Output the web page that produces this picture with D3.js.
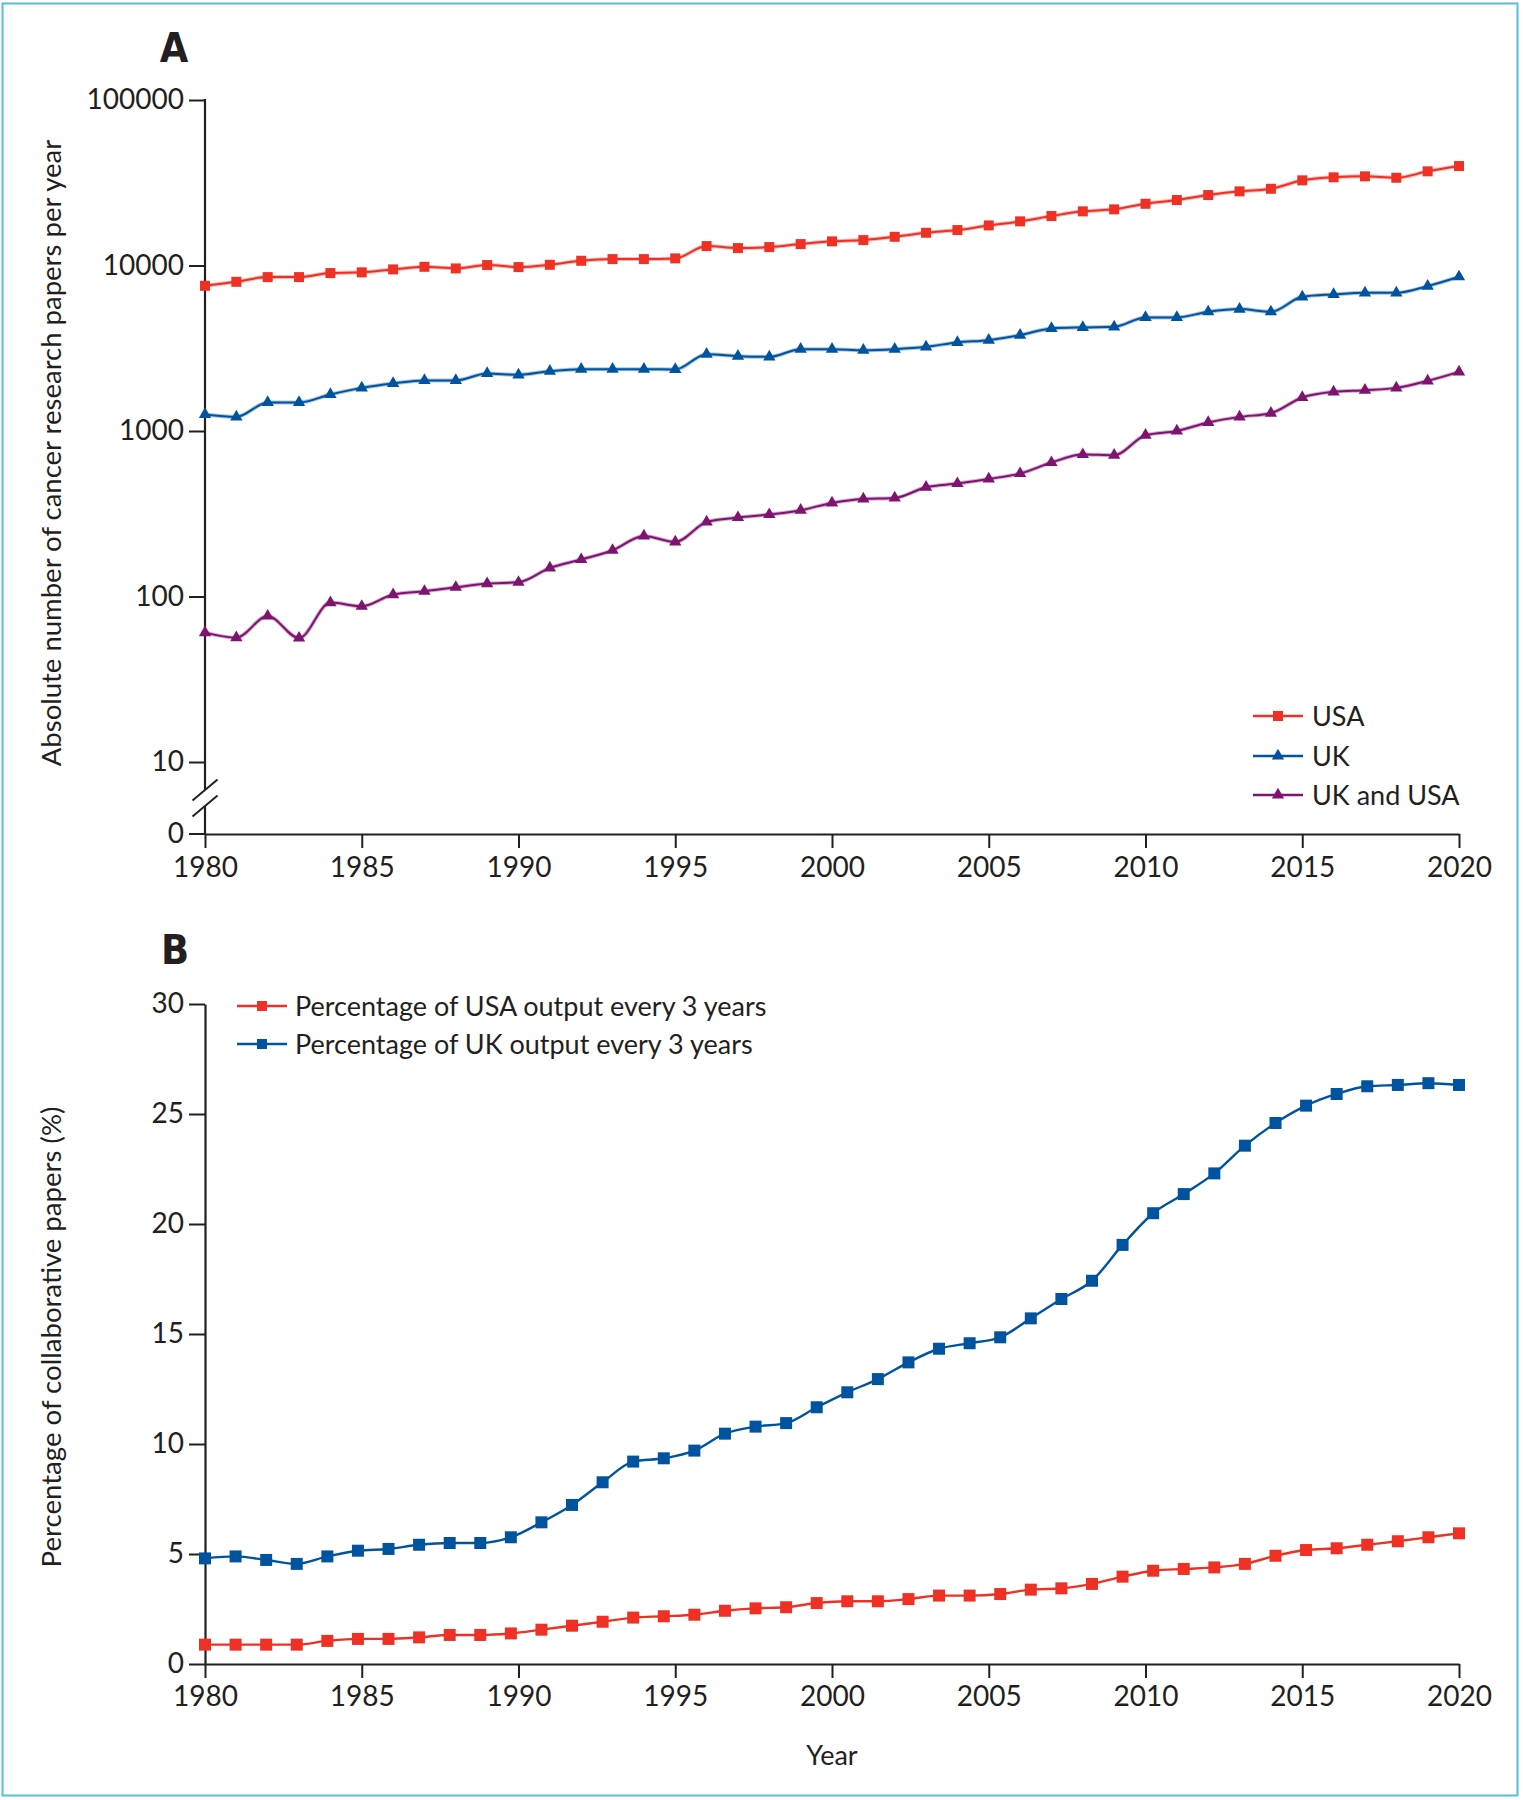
<!DOCTYPE html>
<html>
<head>
<meta charset="utf-8">
<script src="https://cdn.jsdelivr.net/npm/d3@7"></script>
<style>
  html, body { margin: 0; padding: 0; background: #fff; }
  svg { display: block; }
  .tick text { font-family: Lato, "Noto Sans", sans-serif; fill: #231f20; }
</style>
</head>
<body>
<svg id="chart" width="1523" height="1800"></svg>
<script>
// ---------- Panel A data (annual counts, 1980-2020) ----------
const yearsA = [1980,1981,1982,1983,1984,1985,1986,1987,1988,1989,1990,1991,1992,1993,1994,1995,1996,1997,1998,1999,2000,2001,2002,2003,2004,2005,2006,2007,2008,2009,2010,2011,2012,2013,2014,2015,2016,2017,2018,2019,2020];
const usaCounts = [7540,7970,8510,8510,9000,9090,9470,9820,9600,10060,9780,10100,10680,10930,10930,11040,13100,12740,12920,13470,13990,14240,14910,15770,16370,17470,18480,19900,21240,21840,23600,24860,26650,28050,29090,32700,34100,34580,33900,37060,39900];
const ukCounts = [1258,1217,1487,1487,1662,1822,1938,2020,2020,2227,2184,2299,2364,2364,2364,2354,2913,2833,2805,3123,3123,3080,3123,3225,3429,3540,3795,4166,4224,4260,4857,4857,5251,5451,5251,6468,6688,6837,6837,7508,8545];
const ukUsaCounts = [60.5,56.4,76.2,56.1,91.9,87.3,102.7,107.5,113.7,119.7,121.9,148.7,167.2,190.2,232.2,213.5,282.1,299.9,312.7,332,367.6,388.6,394,457.5,481.6,513.4,553.4,645,721,714,943,1001,1126,1217,1281,1594,1724,1765,1822,2009,2277];
const seriesNamesA = ["USA", "UK", "UK and USA"];

// ---------- Panel B data (42 rolling 3-year windows, 1980-2020) ----------
const usaPercent = [0.88,0.88,0.88,0.88,1.05,1.14,1.14,1.21,1.32,1.32,1.39,1.56,1.74,1.92,2.11,2.17,2.24,2.42,2.53,2.58,2.77,2.85,2.85,2.95,3.11,3.11,3.18,3.38,3.44,3.64,3.97,4.24,4.32,4.39,4.55,4.92,5.18,5.26,5.42,5.58,5.76,5.94];
const ukPercent = [4.80,4.89,4.73,4.55,4.89,5.15,5.23,5.42,5.50,5.50,5.76,6.44,7.23,8.26,9.20,9.35,9.70,10.47,10.79,10.95,11.67,12.35,12.95,13.71,14.33,14.58,14.85,15.71,16.59,17.42,19.05,20.49,21.36,22.30,23.56,24.59,25.38,25.91,26.26,26.32,26.40,26.32];
const seriesNamesB = ["Percentage of USA output every 3 years", "Percentage of UK output every 3 years"];

// ---------- Tick labels ----------
const xTickYears = [1980,1985,1990,1995,2000,2005,2010,2015,2020];
const yTicksA = [10,100,1000,10000,100000];
const yTicksB = [0,5,10,15,20,25,30];

// ---------- Styles ----------
const RED = "#ee3124", BLUE = "#00539f", PURPLE = "#7e1470", INK = "#231f20";
const FONT = "Lato, 'Noto Sans', sans-serif";
const BOLD_FONT = "'Liberation Sans Narrow', 'DejaVu Sans Condensed', sans-serif";

const svg = d3.select("#chart");
svg.append("rect").attr("width", 1523).attr("height", 1800).attr("fill", "#fff");
svg.append("rect").attr("x", 2.5).attr("y", 3.5).attr("width", 1515).attr("height", 1792)
  .attr("fill", "none").attr("stroke", "#55bfdc").attr("stroke-width", 2);

const x = d3.scaleLinear().domain([1980, 2020]).range([205, 1459]);

// ================= Panel A =================
const yA = d3.scaleLog().domain([10, 100000]).range([762, 100]);
const axisYA = 834;   // baseline (value "0") of panel A

const gA = svg.append("g");

// x axis A
const xAxisA = gA.append("g").attr("transform", `translate(0,${axisYA})`)
  .call(d3.axisBottom(x).tickValues(xTickYears).tickFormat(d3.format("d")).tickSize(14).tickSizeOuter(0).tickPadding(9));
xAxisA.select(".domain").attr("stroke", INK).attr("stroke-width", 2.2);
xAxisA.selectAll(".tick line").attr("stroke", INK).attr("stroke-width", 2);
xAxisA.selectAll(".tick text").style("font-size", "28px");

// y axis A (ticks only, axis line drawn with break)
const yAxisA = gA.append("g").attr("transform", `translate(${x(1980)},0)`)
  .call(d3.axisLeft(yA).tickValues(yTicksA).tickFormat(d3.format("d")).tickSize(16).tickPadding(5));
yAxisA.select(".domain").remove();
yAxisA.selectAll(".tick line").attr("stroke", INK).attr("stroke-width", 2);
yAxisA.selectAll(".tick text").style("font-size", "28px");
// zero tick
gA.append("line").attr("x1", x(1980) - 16).attr("x2", x(1980)).attr("y1", axisYA).attr("y2", axisYA)
  .attr("stroke", INK).attr("stroke-width", 2);
gA.append("text").attr("x", x(1980) - 21).attr("y", axisYA).attr("dy", "0.32em")
  .attr("text-anchor", "end").style("font-family", FONT).style("font-size", "28px").attr("fill", INK).text("0");
// axis line with break
const breakTop = 790, breakBot = 806;
gA.append("line").attr("x1", x(1980)).attr("x2", x(1980)).attr("y1", yA(100000) - 1).attr("y2", breakTop)
  .attr("stroke", INK).attr("stroke-width", 2.2);
gA.append("line").attr("x1", x(1980)).attr("x2", x(1980)).attr("y1", breakBot).attr("y2", axisYA)
  .attr("stroke", INK).attr("stroke-width", 2.2);
[breakTop, breakBot].forEach(cy => {
  gA.append("line").attr("x1", x(1980) - 12.5).attr("y1", cy + 10.5).attr("x2", x(1980) + 12.5).attr("y2", cy - 10.5)
    .attr("stroke", INK).attr("stroke-width", 2);
});

// lines A
const dataA = [
  { name: seriesNamesA[0], values: usaCounts, color: RED, symbol: d3.symbolSquare, size: 100 },
  { name: seriesNamesA[1], values: ukCounts, color: BLUE, symbol: d3.symbolTriangle, size: 66 },
  { name: seriesNamesA[2], values: ukUsaCounts, color: PURPLE, symbol: d3.symbolTriangle, size: 66 }
];
const lineA = d3.line().x((d, i) => x(yearsA[i])).y(d => yA(d)).curve(d3.curveMonotoneX);
dataA.forEach(s => {
  gA.append("path").attr("d", lineA(s.values)).attr("fill", "none")
    .attr("stroke", s.color).attr("stroke-opacity", 0.35).attr("stroke-width", 4);
  gA.append("path").attr("d", lineA(s.values)).attr("fill", "none")
    .attr("stroke", s.color).attr("stroke-width", 2);
  gA.selectAll(null).data(s.values).join("path")
    .attr("transform", (d, i) => `translate(${x(yearsA[i])},${yA(d)})`)
    .attr("d", d3.symbol().type(s.symbol).size(s.size)).attr("fill", s.color);
});

// legend A
const legA = gA.append("g");
dataA.forEach((s, i) => {
  const ly = [716, 756, 795][i];
  legA.append("line").attr("x1", 1253).attr("x2", 1303).attr("y1", ly).attr("y2", ly)
    .attr("stroke", s.color).attr("stroke-width", 2.5);
  legA.append("path").attr("transform", `translate(1278,${ly})`)
    .attr("d", d3.symbol().type(s.symbol).size(s.size)).attr("fill", s.color);
  legA.append("text").attr("x", 1312).attr("y", ly).attr("dy", "0.36em")
    .style("font-family", FONT).style("font-size", "27px").attr("fill", INK).text(s.name);
});

// title A
gA.append("text").attr("transform", "translate(61,453) rotate(-90)").attr("text-anchor", "middle")
  .style("font-family", FONT).style("font-size", "27.5px").attr("fill", INK)
  .text("Absolute number of cancer research papers per year");
gA.append("text").attr("x", 174).attr("y", 62).attr("text-anchor", "middle")
  .style("font-family", BOLD_FONT).style("font-weight", "bold").style("font-size", "41px").attr("fill", INK).text("A");

// ================= Panel B =================
const yB = d3.scaleLinear().domain([0, 30]).range([1664, 1004]);
const xB = d3.scaleLinear().domain([0, usaPercent.length - 1]).range([x(1980), x(2020)]);
const gB = svg.append("g");

const xAxisB = gB.append("g").attr("transform", `translate(0,${yB(0)})`)
  .call(d3.axisBottom(x).tickValues(xTickYears).tickFormat(d3.format("d")).tickSize(14).tickSizeOuter(0).tickPadding(8));
xAxisB.select(".domain").attr("stroke", INK).attr("stroke-width", 2.2);
xAxisB.selectAll(".tick line").attr("stroke", INK).attr("stroke-width", 2);
xAxisB.selectAll(".tick text").style("font-size", "28px");

const yAxisB = gB.append("g").attr("transform", `translate(${x(1980)},0)`)
  .call(d3.axisLeft(yB).tickValues(yTicksB).tickSize(16).tickSizeOuter(0).tickPadding(5));
yAxisB.select(".domain").attr("stroke", INK).attr("stroke-width", 2.2);
yAxisB.selectAll(".tick line").attr("stroke", INK).attr("stroke-width", 2);
yAxisB.selectAll(".tick text").style("font-size", "28px");

const dataB = [
  { name: seriesNamesB[0], values: usaPercent, color: RED },
  { name: seriesNamesB[1], values: ukPercent, color: BLUE }
];
const lineB = d3.line().x((d, i) => xB(i)).y(d => yB(d)).curve(d3.curveMonotoneX);
dataB.forEach(s => {
  gB.append("path").attr("d", lineB(s.values)).attr("fill", "none")
    .attr("stroke", s.color).attr("stroke-width", 2.4);
  gB.selectAll(null).data(s.values).join("path")
    .attr("transform", (d, i) => `translate(${xB(i)},${yB(d)})`)
    .attr("d", d3.symbol().type(d3.symbolSquare).size(144)).attr("fill", s.color);
});

// legend B
dataB.forEach((s, i) => {
  const ly = [1006, 1044][i];
  gB.append("line").attr("x1", 237).attr("x2", 287).attr("y1", ly).attr("y2", ly)
    .attr("stroke", s.color).attr("stroke-width", 2.5);
  gB.append("path").attr("transform", `translate(262,${ly})`)
    .attr("d", d3.symbol().type(d3.symbolSquare).size(100)).attr("fill", s.color);
  gB.append("text").attr("x", 295).attr("y", ly).attr("dy", "0.36em")
    .style("font-family", FONT).style("font-size", "27px").attr("fill", INK).text(s.name);
});

gB.append("text").attr("transform", "translate(61,1337) rotate(-90)").attr("text-anchor", "middle")
  .style("font-family", FONT).style("font-size", "27.6px").attr("fill", INK)
  .text("Percentage of collaborative papers (%)");
gB.append("text").attr("x", 832).attr("y", 1765).attr("text-anchor", "middle")
  .style("font-family", FONT).style("font-size", "27px").attr("fill", INK).text("Year");
gB.append("text").attr("x", 175).attr("y", 964).attr("text-anchor", "middle")
  .style("font-family", BOLD_FONT).style("font-weight", "bold").style("font-size", "41px").attr("fill", INK).text("B");
</script>
</body>
</html>
